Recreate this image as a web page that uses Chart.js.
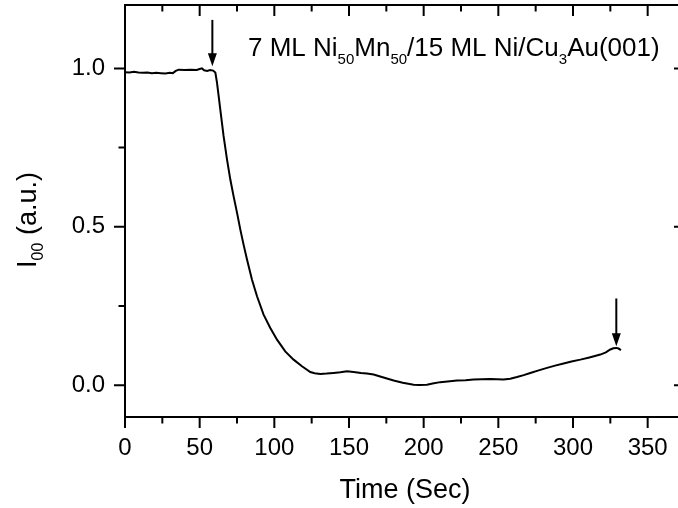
<!DOCTYPE html>
<html>
<head>
<meta charset="utf-8">
<script src="https://cdn.jsdelivr.net/npm/chart.js@4"></script>
<style>
  html, body { margin: 0; padding: 0; background: #fff; }
  #wrap { width: 678px; height: 508px; overflow: hidden; position: relative; }
</style>
</head>
<body>
<div id="wrap"><canvas id="chart" width="686" height="508"></canvas></div>
<script>
// LEED (00) intensity vs time
const timeSec = [0, 3, 6, 9, 12, 15, 18, 21, 24, 27, 30, 32, 34, 36, 40, 44, 48, 50, 51.5, 53, 55, 57, 59, 60.5,
  61.6, 62.7, 63.8, 66, 68.3, 70.5, 72.7, 75, 77.2, 79.4, 81.7, 85, 88.4, 92.8, 97.3, 101.8, 107.3, 112.9, 118.5,
  124.1, 127, 130.8, 135, 139.7, 144.2, 148.7,
  153.1, 158, 162, 166.5, 172, 179.9, 186, 193.3, 197, 202.2, 206, 211.1, 216, 222.3, 228, 233.4, 239, 244.6,
  249, 253.5, 258, 262.5, 267, 271.4, 277, 282.6, 288, 293.7, 299, 304.9, 311, 318.3, 322, 325, 327, 329, 330.5, 332.1];
const intensity = [0.988, 0.987, 0.989, 0.987, 0.986, 0.987, 0.985, 0.986, 0.985, 0.984, 0.986, 0.985, 0.992, 0.996,
  0.995, 0.996, 0.995, 0.998, 1.000, 0.994, 0.992, 0.995, 0.993, 0.987,
  0.955, 0.913, 0.871, 0.787, 0.713, 0.650, 0.597, 0.545, 0.492, 0.444, 0.397, 0.334, 0.281, 0.223, 0.181, 0.144,
  0.107, 0.081, 0.060, 0.042, 0.038, 0.036, 0.037, 0.039, 0.041, 0.044,
  0.042, 0.039, 0.037, 0.034, 0.026, 0.015, 0.008, 0.002, 0.001, 0.002, 0.006, 0.010, 0.012, 0.015, 0.016, 0.018,
  0.019, 0.020, 0.019, 0.018, 0.021, 0.026, 0.032, 0.039, 0.047, 0.055, 0.062, 0.069, 0.075, 0.081, 0.088, 0.097,
  0.104, 0.113, 0.117, 0.118, 0.116, 0.111];

const xTicks = [0, 50, 100, 150, 200, 250, 300, 350];
const xMinorTicks = [25, 75, 125, 175, 225, 275, 325, 375];
const yTicks = [0.0, 0.5, 1.0];
const yMinorTicks = [0.25, 0.75];

// arrows marking start / end of deposition
const arrowTime = [58.5, 329];
const arrowFrom = [1.153, 0.274];
const arrowTo = [1.007, 0.123];

const FONT = 'Arial, "Liberation Sans", sans-serif';

function drawSubText(ctx, parts, x, y, size, subSize, subShift) {
  // parts: [text, isSub]
  let cx = x;
  for (const [txt, sub] of parts) {
    ctx.font = (sub ? subSize : size) + 'px ' + FONT;
    ctx.fillText(txt, cx, sub ? y + subShift : y);
    cx += ctx.measureText(txt).width;
  }
  return cx - x;
}
function measureSubText(ctx, parts, size, subSize) {
  let w = 0;
  for (const [txt, sub] of parts) {
    ctx.font = (sub ? subSize : size) + 'px ' + FONT;
    w += ctx.measureText(txt).width;
  }
  return w;
}

const framePlugin = {
  id: 'frame',
  afterDatasetsDraw(chart) {
    const { ctx, chartArea: a, scales: { x, y } } = chart;
    ctx.save();
    ctx.strokeStyle = '#000';
    ctx.fillStyle = '#000';
    ctx.lineWidth = 2;
    ctx.strokeRect(a.left, a.top, a.right - a.left, a.bottom - a.top);

    const major = 11, minor = 6.5;
    ctx.beginPath();
    const tickX = (v, len) => {
      const px = x.getPixelForValue(v);
      ctx.moveTo(px, a.bottom); ctx.lineTo(px, a.bottom + len);
      ctx.moveTo(px, a.top); ctx.lineTo(px, a.top + len);
    };
    const tickY = (v, len) => {
      const py = y.getPixelForValue(v);
      ctx.moveTo(a.left, py); ctx.lineTo(a.left - len, py);
      ctx.moveTo(a.right, py); ctx.lineTo(a.right - len, py);
    };
    xTicks.forEach(v => tickX(v, major));
    xMinorTicks.forEach(v => tickX(v, minor));
    yTicks.forEach(v => tickY(v, major));
    yMinorTicks.forEach(v => tickY(v, minor));
    ctx.stroke();

    // arrows
    for (let i = 0; i < arrowTime.length; i++) {
      const px = x.getPixelForValue(arrowTime[i]);
      const y1 = y.getPixelForValue(arrowFrom[i]);
      const y2 = y.getPixelForValue(arrowTo[i]);
      ctx.beginPath();
      ctx.moveTo(px, y1); ctx.lineTo(px, y2 - 10);
      ctx.stroke();
      ctx.beginPath();
      ctx.moveTo(px, y2);
      ctx.lineTo(px - 4.5, y2 - 13);
      ctx.lineTo(px + 4.5, y2 - 13);
      ctx.closePath();
      ctx.fill();
    }

    // annotation
    ctx.textBaseline = 'alphabetic';
    ctx.textAlign = 'left';
    drawSubText(ctx, [['7 ML Ni', 0], ['50', 1], ['Mn', 0], ['50', 1], ['/15 ML Ni/Cu', 0], ['3', 1], ['Au(001)', 0]],
      248, 56, 26, 15, 8);

    // y axis title
    const yParts = [['I', 0], ['00', 1], [' (a.u.)', 0]];
    const w = measureSubText(ctx, yParts, 27, 16);
    ctx.translate(36, 220);
    ctx.rotate(-Math.PI / 2);
    drawSubText(ctx, yParts, -w / 2, 0, 27, 16, 7);
    ctx.restore();
  }
};

new Chart(document.getElementById('chart'), {
  type: 'line',
  data: {
    datasets: [{
      data: timeSec.map((t, i) => ({ x: t, y: intensity[i] })),
      borderColor: '#000',
      borderWidth: 2,
      pointRadius: 0,
      tension: 0,
      fill: false
    }]
  },
  options: {
    responsive: false,
    animation: false,
    layout: { padding: { top: 5, right: 1, left: 0, bottom: 0 } },
    plugins: { legend: { display: false }, tooltip: { enabled: false } },
    scales: {
      x: {
        type: 'linear',
        min: 0,
        max: 375,
        afterFit: s => { s.height = 91; s.paddingLeft = 0; s.paddingRight = 0; s.paddingTop = 0; s.paddingBottom = 0; },
        afterBuildTicks: s => { s.ticks = xTicks.map(v => ({ value: v })); },
        grid: { display: false, drawTicks: false },
        border: { display: false },
        ticks: { color: '#000', font: { family: FONT, size: 24 }, padding: 17, maxRotation: 0, autoSkip: false },
        title: { display: true, text: 'Time (Sec)', color: '#000', font: { family: FONT, size: 27 }, padding: { top: 0, bottom: 1 } }
      },
      y: {
        type: 'linear',
        min: -0.1,
        max: 1.2,
        afterFit: s => { s.width = 125; s.paddingTop = 0; s.paddingBottom = 0; s.paddingLeft = 0; s.paddingRight = 0; },
        afterBuildTicks: s => { s.ticks = yTicks.map(v => ({ value: v })); },
        grid: { display: false, drawTicks: false },
        border: { display: false },
        ticks: { color: '#000', font: { family: FONT, size: 24 }, padding: 20, callback: v => v.toFixed(1) }
      }
    }
  },
  plugins: [framePlugin]
});
</script>
</body>
</html>
